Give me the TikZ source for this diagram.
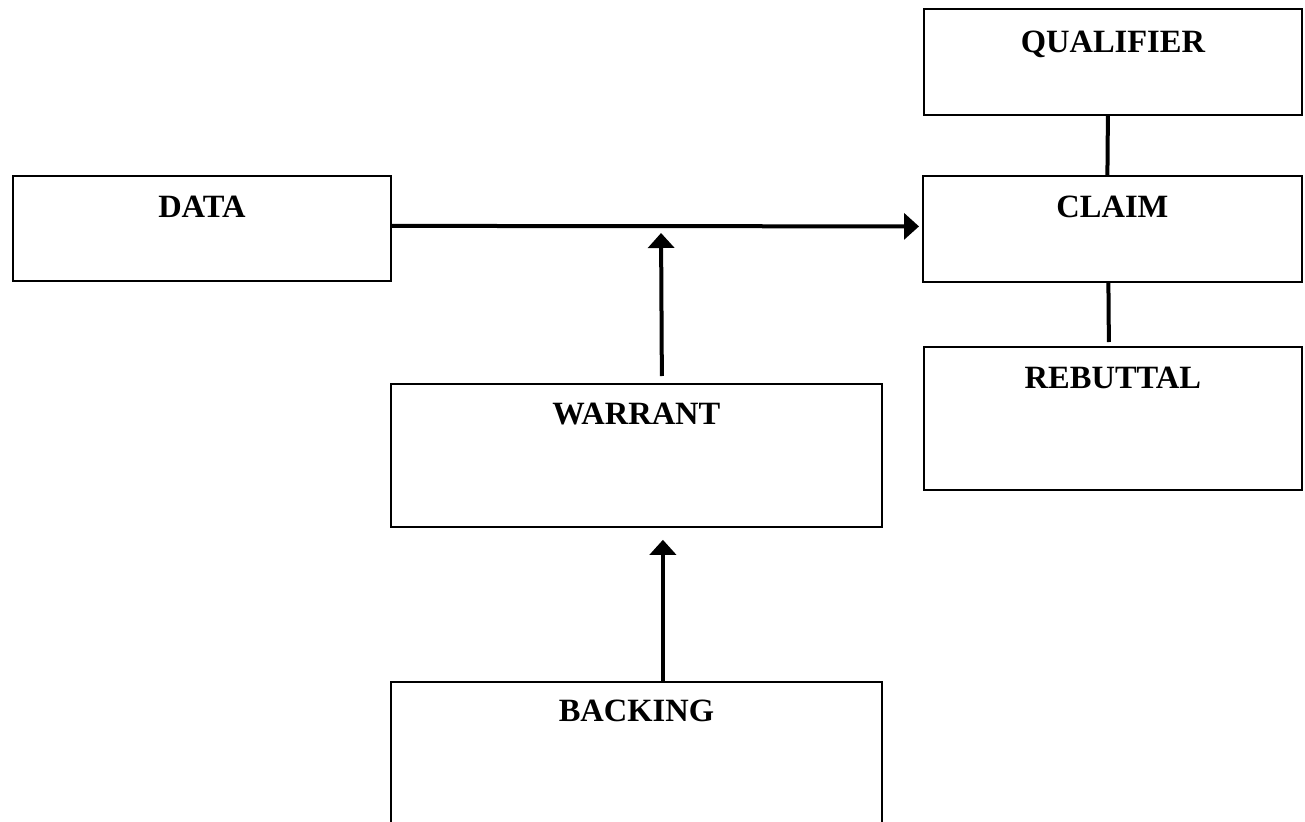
\documentclass[tikz,border=0pt]{standalone}
\usepackage{fontspec}
\setmainfont{Liberation Serif}
\usetikzlibrary{arrows.meta,calc}

\begin{document}
\begin{tikzpicture}[x=1pt,y=-1pt,
  stagebox/.style={draw=black,line width=1.8pt,rectangle,inner sep=0pt,anchor=north west},
  stagelabel/.style={anchor=base,inner sep=0pt,font=\fontsize{32.5}{38}\selectfont\bfseries},
  link/.style={line width=4pt},
  arr/.style={line width=4pt,-{Triangle[length=15pt,width=26pt]}}]

\useasboundingbox (0,0) rectangle (1305,821);
\clip (0,0) rectangle (1305,821);

% boxes of the argument model
\node[stagebox,minimum width=378pt,minimum height=106pt] (qual)    at (923,8)   {};
\node[stagebox,minimum width=378pt,minimum height=105pt] (data)    at (12,175)  {};
\node[stagebox,minimum width=379pt,minimum height=106pt] (claim)   at (922,175) {};
\node[stagebox,minimum width=378pt,minimum height=143pt] (rebut)   at (923,346) {};
\node[stagebox,minimum width=491pt,minimum height=143pt] (warrant) at (390,383) {};
\node[stagebox,minimum width=491pt,minimum height=160pt] (backing) at (390,681) {};

% headings, set near the top of each box (y grows downwards here)
\node[stagelabel] (qualT)    at ($(qual.north)+(0,45)$)    {QUALIFIER};
\node[stagelabel] (dataT)    at ($(data.north)+(0,42)$)    {DATA};
\node[stagelabel] (claimT)   at ($(claim.north)+(0,42)$)   {CLAIM};
\node[stagelabel] (rebutT)   at ($(rebut.north)+(0,42)$)   {REBUTTAL};
\node[stagelabel] (warrantT) at ($(warrant.north)+(0,41)$) {WARRANT};
\node[stagelabel] (backingT) at ($(backing.north)+(0,40)$) {BACKING};

% connectors
\draw[arr,shorten >=3pt] ([yshift=2.5pt]data.east) -- ([yshift=2.5pt]claim.west);
\coordinate (join) at (661,225);
\draw[arr,shorten <=7pt,shorten >=8pt] ([xshift=25.5pt]warrant.north) -- (join);
\draw[arr,shorten >=12pt] ([xshift=26.5pt]backing.north) -- ([xshift=26.5pt]warrant.south);
\draw[link] ([xshift=-5pt]qual.south) -- ([xshift=-5pt]claim.north);
\draw[link,shorten >=4pt] ([xshift=-4pt]claim.south) -- ([xshift=-4pt]rebut.north);

\end{tikzpicture}
\end{document}
